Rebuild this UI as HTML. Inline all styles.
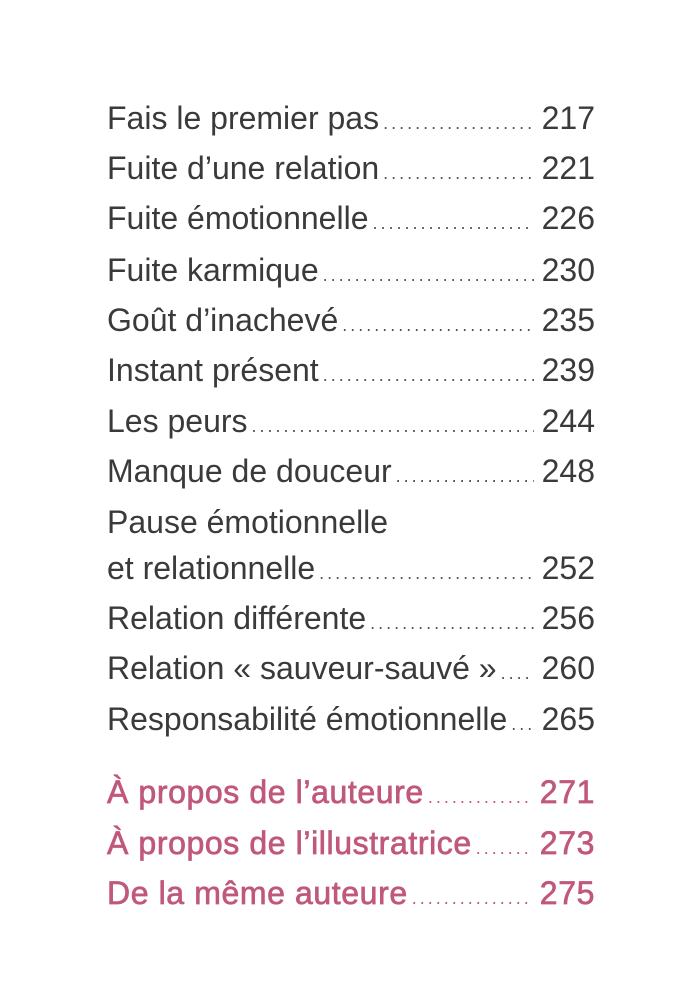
<!DOCTYPE html>
<html><head><meta charset="utf-8"><style>
body{margin:0;background:#fff;width:700px;height:989px;position:relative;overflow:hidden;font-family:"Liberation Sans",sans-serif;}
.r{position:absolute;left:107px;width:488px;height:40px;display:flex;align-items:baseline;font-size:32px;color:#3a3a3a;letter-spacing:0px;white-space:nowrap;line-height:40px}
.r .t{flex:none}
.r .d{flex:1;overflow:hidden;font-size:18px;letter-spacing:3px;margin:0 8px 0 4px;color:#555;-webkit-text-stroke:0}
.r .d::after{content:"................................................................................................"}
.r .n{flex:none}
.p{color:#c0587a;letter-spacing:0.6px;-webkit-text-stroke:0.7px #c0587a}
.p .d{color:#c0587a;letter-spacing:3px}
</style></head><body>
<div class="r" style="top:98px"><span class="t">Fais le premier pas</span><span class="d"></span><span class="n">217</span></div>
<div class="r" style="top:148px"><span class="t">Fuite d’une relation</span><span class="d"></span><span class="n">221</span></div>
<div class="r" style="top:198px"><span class="t">Fuite émotionnelle</span><span class="d"></span><span class="n">226</span></div>
<div class="r" style="top:250px"><span class="t">Fuite karmique</span><span class="d"></span><span class="n">230</span></div>
<div class="r" style="top:300px"><span class="t">Goût d’inachevé</span><span class="d"></span><span class="n">235</span></div>
<div class="r" style="top:350px"><span class="t">Instant présent</span><span class="d"></span><span class="n">239</span></div>
<div class="r" style="top:401px"><span class="t">Les peurs</span><span class="d"></span><span class="n">244</span></div>
<div class="r" style="top:451px"><span class="t">Manque de douceur</span><span class="d"></span><span class="n">248</span></div>
<div class="r" style="top:502px"><span class="t">Pause émotionnelle</span></div>
<div class="r" style="top:548px"><span class="t">et relationnelle</span><span class="d"></span><span class="n">252</span></div>
<div class="r" style="top:598px"><span class="t">Relation différente</span><span class="d"></span><span class="n">256</span></div>
<div class="r" style="top:648px"><span class="t">Relation « sauveur-sauvé »</span><span class="d"></span><span class="n">260</span></div>
<div class="r" style="top:699px"><span class="t">Responsabilité émotionnelle</span><span class="d"></span><span class="n">265</span></div>
<div class="r p" style="top:772px"><span class="t">À propos de l’auteure</span><span class="d"></span><span class="n">271</span></div>
<div class="r p" style="top:823px"><span class="t">À propos de l’illustratrice</span><span class="d"></span><span class="n">273</span></div>
<div class="r p" style="top:873px"><span class="t">De la même auteure</span><span class="d"></span><span class="n">275</span></div>
</body></html>
